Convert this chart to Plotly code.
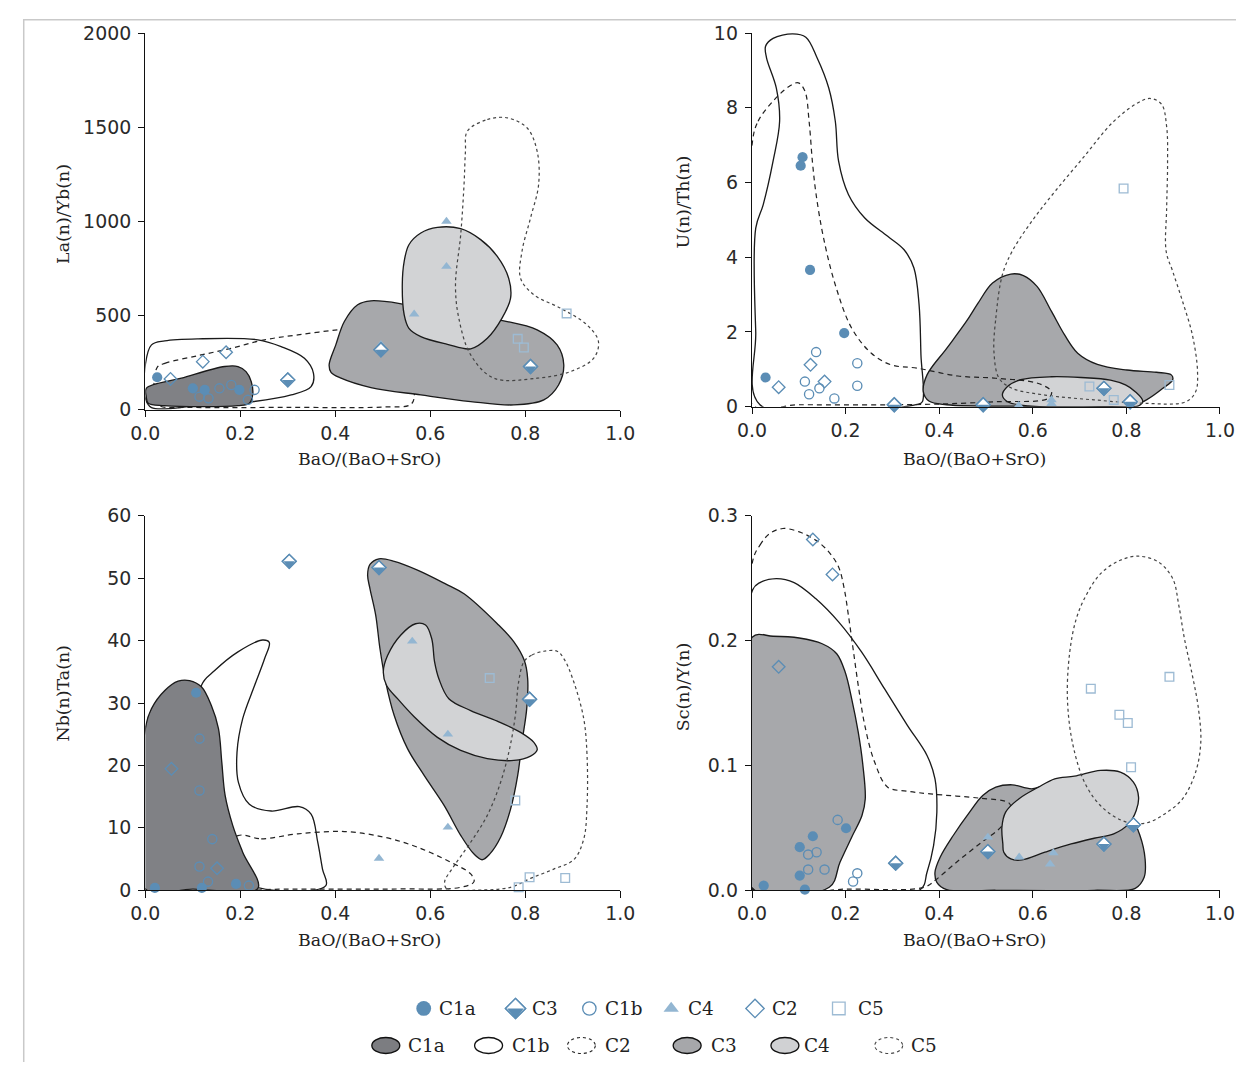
import plotly.graph_objects as go

# ---------------- data: samples ----------------
# Panel A: La(n)/Yb(n)
a_c1a_x = [0.025, 0.10, 0.125, 0.198]
a_c1a_y = [172, 113, 105, 105]
a_c1b_x = [0.114, 0.133, 0.156, 0.181, 0.23, 0.216]
a_c1b_y = [69, 60, 113, 131, 105, 52]
a_c2_x = [0.053, 0.121, 0.170]
a_c2_y = [163, 255, 305]
a_c3_x = [0.30, 0.496, 0.811]
a_c3_y = [158, 318, 229]
a_c4_x = [0.634, 0.634, 0.566, 0.496]
a_c4_y = [1000, 760, 507, 345]
a_c5_x = [0.887, 0.784, 0.797]
a_c5_y = [511, 376, 330]

# Panel B: U(n)/Th(n)
b_c1a_x = [0.108, 0.104, 0.124, 0.197, 0.029]
b_c1a_y = [6.68, 6.45, 3.66, 1.97, 0.78]
b_c1b_x = [0.137, 0.225, 0.113, 0.144, 0.122, 0.225, 0.176]
b_c1b_y = [1.46, 1.16, 0.67, 0.49, 0.33, 0.56, 0.22]
b_c2_x = [0.057, 0.125, 0.155]
b_c2_y = [0.52, 1.12, 0.67]
b_c3_x = [0.304, 0.494, 0.752, 0.808]
b_c3_y = [0.05, 0.05, 0.49, 0.13]
b_c4_x = [0.57, 0.64, 0.64]
b_c4_y = [0.03, 0.18, 0.08]
b_c5_x = [0.721, 0.773, 0.892, 0.794]
b_c5_y = [0.54, 0.18, 0.58, 5.84]

# Panel C: Nb(n)/Ta(n)
c_c1a_x = [0.107, 0.02, 0.119, 0.191]
c_c1a_y = [31.65, 0.37, 0.37, 1.02]
c_c1b_x = [0.114, 0.114, 0.141, 0.114, 0.132, 0.218]
c_c1b_y = [24.3, 16.0, 8.2, 3.8, 1.39, 0.75]
c_c2_x = [0.055, 0.151]
c_c2_y = [19.46, 3.53]
c_c3_x = [0.303, 0.492, 0.809]
c_c3_y = [52.7, 51.7, 30.6]
c_c4_x = [0.562, 0.637, 0.637, 0.492]
c_c4_y = [39.9, 25.0, 10.1, 5.1]
c_c5_x = [0.725, 0.779, 0.809, 0.786, 0.884]
c_c5_y = [34.0, 14.4, 2.1, 0.48, 1.97]

# Panel D: Sc(n)/Y(n)
d_c1a_x = [0.025, 0.113, 0.102, 0.102, 0.130, 0.201]
d_c1a_y = [0.0038, 0.0006, 0.0118, 0.0345, 0.0433, 0.0497]
d_c1b_x = [0.183, 0.12, 0.138, 0.12, 0.155, 0.225, 0.216]
d_c1b_y = [0.0564, 0.0286, 0.0305, 0.0166, 0.0166, 0.0136, 0.007]
d_c2_x = [0.130, 0.172, 0.057]
d_c2_y = [0.281, 0.253, 0.179]
d_c3_x = [0.307, 0.504, 0.752, 0.815]
d_c3_y = [0.0217, 0.031, 0.037, 0.0524]
d_c4_x = [0.504, 0.571, 0.644, 0.637]
d_c4_y = [0.0425, 0.0265, 0.03, 0.021]
d_c5_x = [0.724, 0.892, 0.785, 0.803, 0.810]
d_c5_y = [0.1615, 0.171, 0.1406, 0.134, 0.0986]

# ---------------- data: field outlines ----------------
fa_c1b_x = [0.0, 0.013, 0.041, 0.111, 0.237, 0.286, 0.335, 0.354, 0.349, 0.307, 0.216, 0.111, 0.013, 0.0]
fa_c1b_y = [238, 344, 365, 376, 371, 335, 273, 193, 122, 78, 39, 21, 11, 60]
fa_c2_x = [0.025, 0.041, 0.111, 0.181, 0.251, 0.321, 0.405, 0.48, 0.56, 0.567, 0.56, 0.5, 0.3, 0.1, 0.03, 0.015, 0.02]
fa_c2_y = [225, 246, 287, 326, 371, 397, 424, 440, 300, 100, 30, 14, 12, 12, 20, 60, 160]
fa_c1a_x = [0.002, 0.006, 0.04, 0.195, 0.219, 0.226, 0.223, 0.212, 0.195, 0.167, 0.076, 0.002]
fa_c1a_y = [68, 34, 21, 21, 34, 78, 149, 202, 229, 229, 167, 113]
fa_c3_x = [0.387, 0.401, 0.419, 0.447, 0.475, 0.545, 0.65, 0.762, 0.825, 0.867, 0.881, 0.870, 0.839,
           0.776, 0.685, 0.580, 0.475, 0.412, 0.391]
fa_c3_y = [238, 344, 468, 557, 578, 560, 504, 468, 424, 344, 238, 131, 52, 25, 43, 78, 117, 167, 198]
fa_c4_x = [0.541, 0.545, 0.555, 0.580, 0.615, 0.664, 0.706, 0.741, 0.765, 0.769, 0.751, 0.720, 0.685,
           0.636, 0.580, 0.555, 0.545]
fa_c4_y = [663, 787, 876, 938, 968, 961, 903, 814, 698, 592, 486, 379, 323, 347, 388, 432, 504]
fa_c5_x = [0.678, 0.72, 0.762, 0.804, 0.825, 0.828, 0.811, 0.793, 0.790, 0.818, 0.874, 0.930, 0.954,
           0.944, 0.895, 0.825, 0.734, 0.685, 0.660, 0.653, 0.664, 0.671, 0.674]
fa_c5_y = [1479, 1541, 1550, 1496, 1372, 1195, 1018, 840, 698, 610, 539, 450, 362, 273, 202, 167, 167,
           291, 486, 663, 929, 1195, 1372]

fb_c1b_x = [0.008, 0.008, 0.024, 0.045, 0.059, 0.052, 0.031, 0.029, 0.045, 0.087, 0.115, 0.139, 0.164,
            0.178, 0.185, 0.206, 0.241, 0.29, 0.325, 0.346, 0.357, 0.361, 0.364, 0.353, 0.017]
fb_c1b_y = [2.0, 4.78, 5.41, 6.57, 7.64, 8.53, 9.34, 9.65, 9.86, 9.98, 9.89, 9.34, 8.53, 7.64, 6.57,
            5.68, 5.05, 4.56, 4.2, 3.71, 2.73, 1.39, 0.13, 0.06, 0.05]
fb_c2_x = [0.001, 0.013, 0.045, 0.08, 0.099, 0.113, 0.122, 0.129, 0.137, 0.153, 0.178, 0.213, 0.255,
           0.297, 0.353, 0.44, 0.521, 0.612, 0.64, 0.633, 0.521, 0.367, 0.1, 0.001]
fb_c2_y = [7.1, 7.64, 8.18, 8.58, 8.67, 8.45, 7.64, 6.57, 5.68, 4.51, 3.26, 2.1, 1.43, 1.12, 1.03,
           0.82, 0.76, 0.62, 0.4, 0.22, 0.13, 0.06, 0.05, 0.05]
fb_c3_x = [0.366, 0.374, 0.416, 0.458, 0.483, 0.514, 0.553, 0.580, 0.609, 0.640, 0.668, 0.696, 0.738,
           0.801, 0.864, 0.896, 0.899, 0.878, 0.843, 0.815, 0.591, 0.416, 0.378]
fb_c3_y = [0.4, 0.85, 1.56, 2.28, 2.77, 3.31, 3.55, 3.51, 3.22, 2.55, 1.92, 1.43, 1.13, 0.98, 0.92,
           0.85, 0.72, 0.49, 0.18, 0.03, 0.01, 0.05, 0.15]
fb_c4_x = [0.535, 0.546, 0.574, 0.64, 0.703, 0.766, 0.798, 0.819, 0.835, 0.826, 0.766, 0.591, 0.546]
fb_c4_y = [0.31, 0.54, 0.72, 0.8, 0.78, 0.71, 0.58, 0.4, 0.15, 0.02, 0.0, 0.02, 0.13]
fb_c5_x = [0.517, 0.521, 0.535, 0.556, 0.60, 0.65, 0.71, 0.77, 0.82, 0.85, 0.875, 0.886, 0.888, 0.886,
           0.885, 0.899, 0.92, 0.941, 0.952, 0.948, 0.927, 0.836, 0.731, 0.626, 0.556, 0.528]
fb_c5_y = [1.47, 2.37, 3.53, 4.16, 5.0, 5.8, 6.7, 7.6, 8.1, 8.25, 8.1, 7.5, 6.5, 5.3, 4.16, 3.62,
           2.82, 1.92, 0.94, 0.4, 0.13, 0.09, 0.18, 0.31, 0.49, 0.76]

fc_c1b_x = [0.237, 0.13, 0.12, 0.118, 0.146, 0.195, 0.247, 0.261, 0.251, 0.23, 0.205, 0.193, 0.196,
            0.219, 0.265, 0.324, 0.349, 0.363, 0.373, 0.38]
fc_c1b_y = [0.43, 5.0, 20.0, 32.8, 35.2, 38.2, 40.1, 39.7, 37.1, 32.8, 27.5, 22.1, 17.3, 13.8, 12.7,
            13.4, 12.2, 7.7, 3.4, 0.75]
fc_c2_x = [0.195, 0.244, 0.321, 0.419, 0.503, 0.573, 0.643, 0.685, 0.692, 0.664, 0.531, 0.3, 0.05, 0.1]
fc_c2_y = [8.77, 8.24, 9.04, 9.41, 8.5, 6.9, 4.49, 2.62, 1.39, 0.48, 0.21, 0.2, 0.2, 3.0]
fc_c1a_x = [0.0, 0.0, 0.013, 0.041, 0.069, 0.093, 0.118, 0.139, 0.154, 0.161, 0.168, 0.184, 0.205,
            0.237, 0.1]
fc_c1a_y = [0.2, 25.9, 29.1, 32.0, 33.5, 33.6, 32.6, 29.6, 25.9, 20.5, 15.2, 10.4, 6.1, 0.3, 0.2]
fc_c3_x = [0.468, 0.473, 0.492, 0.524, 0.573, 0.632, 0.671, 0.741, 0.776, 0.798, 0.805, 0.803, 0.793,
           0.784, 0.769, 0.748, 0.725, 0.709, 0.692, 0.664, 0.629, 0.587, 0.552, 0.524, 0.506, 0.494,
           0.485, 0.473]
fc_c3_y = [50.5, 52.2, 53.1, 52.7, 51.3, 49.1, 47.5, 42.7, 39.8, 36.8, 33.9, 29.1, 23.7, 18.4, 13.0,
           8.5, 5.8, 4.9, 5.8, 8.8, 13.6, 18.4, 22.7, 28.0, 33.4, 38.7, 44.1, 48.3]
fc_c4_x = [0.501, 0.51, 0.538, 0.569, 0.59, 0.603, 0.609, 0.618, 0.639, 0.685, 0.741, 0.79, 0.818,
           0.825, 0.811, 0.776, 0.72, 0.664, 0.615, 0.566, 0.531, 0.508]
fc_c4_y = [35.0, 37.6, 40.9, 42.7, 42.5, 40.3, 36.6, 33.9, 30.7, 28.8, 27.1, 25.3, 23.7, 22.5, 21.5,
           20.8, 21.1, 22.4, 24.5, 27.8, 30.7, 32.8]
fc_c5_x = [0.797, 0.814, 0.839, 0.867, 0.882, 0.902, 0.923, 0.93, 0.93, 0.923, 0.902, 0.86, 0.811,
           0.769, 0.685, 0.636, 0.63, 0.65, 0.685, 0.72, 0.748, 0.767, 0.779, 0.786]
fc_c5_y = [36.6, 37.7, 38.3, 38.3, 37.0, 33.4, 27.5, 21.6, 13.6, 8.2, 4.9, 3.4, 1.9, 0.48, 0.0, 0.1,
           1.3, 3.9, 7.7, 12.0, 17.3, 22.7, 28.0, 33.4]

fd_c1b_x = [0.001, 0.017, 0.052, 0.09, 0.136, 0.185, 0.234, 0.283, 0.332, 0.374, 0.391, 0.395, 0.388,
            0.374, 0.359, 0.001]
fd_c1b_y = [0.2404, 0.2465, 0.2497, 0.2465, 0.2337, 0.215, 0.1909, 0.1615, 0.1321, 0.108, 0.0893,
            0.0626, 0.0358, 0.0144, 0.0004, 0.0008]
fd_c1a_x = [0.001, 0.045, 0.101, 0.150, 0.181, 0.199, 0.213, 0.227, 0.237, 0.242, 0.235, 0.213, 0.188,
            0.165, 0.001]
fd_c1a_y = [0.2029, 0.2035, 0.2021, 0.1975, 0.1895, 0.1748, 0.1534, 0.1267, 0.1, 0.0732, 0.0599,
            0.0425, 0.0225, 0.0024, 0.0016]
fd_c2_x = [0.001, 0.017, 0.038, 0.066, 0.101, 0.136, 0.164, 0.185, 0.197, 0.206, 0.216, 0.227, 0.241,
           0.262, 0.29, 0.33, 0.381, 0.486, 0.549, 0.553, 0.535, 0.486, 0.437, 0.395, 0.367, 0.2, 0.001]
fd_c2_y = [0.263, 0.2765, 0.2858, 0.2898, 0.2871, 0.2805, 0.2711, 0.259, 0.2417, 0.2203, 0.1935,
           0.1642, 0.1321, 0.1027, 0.0826, 0.0795, 0.0772, 0.0738, 0.07, 0.0652, 0.0519, 0.0371, 0.0225,
           0.0091, 0.0024, 0.001, 0.001]
fd_c3_x = [0.391, 0.402, 0.43, 0.465, 0.493, 0.521, 0.556, 0.598, 0.661, 0.766, 0.812, 0.829, 0.840,
           0.838, 0.819, 0.731, 0.521, 0.416, 0.395]
fd_c3_y = [0.0144, 0.0265, 0.0439, 0.0626, 0.0759, 0.0826, 0.0845, 0.0813, 0.0866, 0.0706, 0.0572,
           0.0439, 0.0251, 0.0104, 0.0016, 0.0, 0.0, 0.0005, 0.0064]
fd_c4_x = [0.536, 0.534, 0.542, 0.57, 0.612, 0.647, 0.689, 0.745, 0.787, 0.815, 0.826, 0.821, 0.805,
           0.773, 0.731, 0.682, 0.626, 0.577, 0.553, 0.538]
fd_c4_y = [0.0371, 0.0505, 0.0626, 0.0732, 0.0826, 0.0893, 0.0914, 0.096, 0.0946, 0.0866, 0.0746,
           0.0639, 0.0532, 0.0452, 0.0417, 0.0371, 0.0305, 0.0243, 0.0251, 0.0305]
fd_c5_x = [0.674, 0.679, 0.693, 0.714, 0.745, 0.787, 0.826, 0.868, 0.899, 0.912, 0.924, 0.941, 0.954,
           0.959, 0.948, 0.92, 0.882, 0.843, 0.801, 0.752, 0.714, 0.686]
fd_c5_y = [0.1534, 0.1909, 0.2176, 0.2363, 0.2537, 0.2644, 0.2676, 0.2631, 0.2497, 0.2283, 0.2016,
           0.1722, 0.1454, 0.1187, 0.0947, 0.0732, 0.0612, 0.054, 0.0545, 0.0652, 0.0839, 0.116]

# ---------------- axes text ----------------
x_ticks = [0.0, 0.2, 0.4, 0.6, 0.8, 1.0]
x_ticktext = ["0.0", "0.2", "0.4", "0.6", "0.8", "1.0"]
a_yticks = [0, 500, 1000, 1500, 2000]
b_yticks = [0, 2, 4, 6, 8, 10]
c_yticks = [0, 10, 20, 30, 40, 50, 60]
d_yticks = [0.0, 0.1, 0.2, 0.3]
d_yticktext = ["0.0", "0.1", "0.2", "0.3"]
x_title = "BaO/(BaO+SrO)"
y_titles = ["La(n)/Yb(n)", "U(n)/Th(n)", "Nb(n)Ta(n)", "Sc(n)/Y(n)"]
legend_points = ["C1a", "C3", "C1b", "C4", "C2", "C5"]
legend_fields = ["C1a", "C1b", "C2", "C3", "C4", "C5"]

# ---------------- styling / layout geometry ----------------
# figure size (px) and the measured figure->picture mapping
W, H = 1243, 1065
SC = 0.978       # picture px per figure px
X0, Y0 = 21.4, 17.9   # picture position of the figure's top-left corner


def pxx(s):
    """picture x (px) -> paper fraction"""
    return ((s - X0) / SC) / W


def pxy(s):
    """picture y (px) -> paper fraction"""
    return 1 - ((s - Y0) / SC) / H


K = 1 / SC
BLUE = "#5b8db5"
BLUE_L = "#93b6d2"
BLUE_SQ = "#9dbbd4"
DARK = "#808185"
MID = "#a7a8ab"
LIGHT = "#d2d3d5"
TICKFONT = dict(family="DejaVu Sans", size=18.5 * K, color="#2a2a2a")
TITLEFONT = dict(family="DejaVu Serif", size=17 * K, color="#222")
LEGFONT = dict(family="DejaVu Serif", size=18 * K, color="#222")

panels = {
    "a": dict(x0=144, x1=620, y0=408, y1=32, yr=[0, 2000], yt=a_yticks, ytt=None),
    "b": dict(x0=752, x1=1221, y0=405, y1=32, yr=[0, 10], yt=b_yticks, ytt=None),
    "c": dict(x0=144, x1=620, y0=888, y1=514, yr=[0, 60], yt=c_yticks, ytt=None),
    "d": dict(x0=752, x1=1221, y0=888, y1=514, yr=[0, 0.3], yt=d_yticks, ytt=d_yticktext),
}
axmap = {"a": ("x", "y"), "b": ("x2", "y2"), "c": ("x3", "y3"), "d": ("x4", "y4")}

fig = go.Figure()


def field(xs, ys, p, fill=None, dash="solid", color="#1a1a1a", width=1.3):
    xa, ya = axmap[p]
    fig.add_trace(go.Scatter(
        x=list(xs) + [xs[0]], y=list(ys) + [ys[0]], mode="lines",
        line=dict(shape="spline", smoothing=1.0, color=color, width=width * K, dash=dash),
        fill="toself" if fill else "none", fillcolor=fill,
        xaxis=xa, yaxis=ya, hoverinfo="skip", showlegend=False))


def c2f(xs, ys, p):
    field(xs, ys, p, fill=None, dash="5px,4px", color="#222", width=1.2)


def c5f(xs, ys, p):
    field(xs, ys, p, fill=None, dash="dot", color="#444", width=1.2)


# fields, drawn in stacking order per panel
field(fa_c1b_x, fa_c1b_y, "a", fill="white")
c2f(fa_c2_x, fa_c2_y, "a")
field(fa_c1a_x, fa_c1a_y, "a", fill=DARK)
field(fa_c3_x, fa_c3_y, "a", fill=MID)
field(fa_c4_x, fa_c4_y, "a", fill=LIGHT)
c5f(fa_c5_x, fa_c5_y, "a")

field(fb_c1b_x, fb_c1b_y, "b", fill="white")
field(fb_c3_x, fb_c3_y, "b", fill=MID)
field(fb_c4_x, fb_c4_y, "b", fill=LIGHT)
c2f(fb_c2_x, fb_c2_y, "b")
c5f(fb_c5_x, fb_c5_y, "b")

field(fc_c1b_x, fc_c1b_y, "c", fill="white")
c2f(fc_c2_x, fc_c2_y, "c")
field(fc_c1a_x, fc_c1a_y, "c", fill=DARK)
field(fc_c3_x, fc_c3_y, "c", fill=MID)
field(fc_c4_x, fc_c4_y, "c", fill=LIGHT)
c5f(fc_c5_x, fc_c5_y, "c")

field(fd_c1b_x, fd_c1b_y, "d", fill="white")
field(fd_c1a_x, fd_c1a_y, "d", fill=MID)
field(fd_c3_x, fd_c3_y, "d", fill=MID)
c2f(fd_c2_x, fd_c2_y, "d")
field(fd_c4_x, fd_c4_y, "d", fill=LIGHT)
c5f(fd_c5_x, fd_c5_y, "d")


def pts(xs, ys, xa, ya, kind, big=False):
    k = (1.45 if big else 1.0) * K
    lw = 1.3 * K
    common = dict(x=xs, y=ys, mode="markers", xaxis=xa, yaxis=ya, hoverinfo="skip",
                  showlegend=False, cliponaxis=False)
    if kind == "C1a":
        fig.add_trace(go.Scatter(marker=dict(symbol="circle", size=10 * k, color=BLUE,
                                             line=dict(width=0)), **common))
    elif kind == "C1b":
        fig.add_trace(go.Scatter(marker=dict(symbol="circle", size=9 * k, color="rgba(255,255,255,0)",
                                             line=dict(width=lw, color=BLUE)), **common))
    elif kind == "C2":
        fig.add_trace(go.Scatter(marker=dict(symbol="diamond", size=9.5 * k, color="rgba(255,255,255,0)",
                                             line=dict(width=lw, color=BLUE)), **common))
    elif kind == "C3":
        s = 10.5 * k
        fig.add_trace(go.Scatter(marker=dict(symbol="diamond", size=s, color="white",
                                             line=dict(width=lw, color=BLUE)), **common))
        t = s * 0.92
        fig.add_trace(go.Scatter(marker=dict(symbol="triangle-down", size=t, color=BLUE,
                                             standoff=t / 4, line=dict(width=0)), **common))
        fig.add_trace(go.Scatter(marker=dict(symbol="diamond-open", size=s, color=BLUE,
                                             line=dict(width=lw, color=BLUE)), **common))
    elif kind == "C4":
        fig.add_trace(go.Scatter(marker=dict(symbol="triangle-up", size=9 * k, color=BLUE_L,
                                             line=dict(width=0)), **common))
    elif kind == "C5":
        fig.add_trace(go.Scatter(marker=dict(symbol="square", size=8.5 * k, color="rgba(255,255,255,0)",
                                             line=dict(width=lw, color=BLUE_SQ)), **common))


order = ["C5", "C4", "C2", "C1b", "C3", "C1a"]
pdata = {
    "a": {"C1a": (a_c1a_x, a_c1a_y), "C1b": (a_c1b_x, a_c1b_y), "C2": (a_c2_x, a_c2_y),
          "C3": (a_c3_x, a_c3_y), "C4": (a_c4_x, a_c4_y), "C5": (a_c5_x, a_c5_y)},
    "b": {"C1a": (b_c1a_x, b_c1a_y), "C1b": (b_c1b_x, b_c1b_y), "C2": (b_c2_x, b_c2_y),
          "C3": (b_c3_x, b_c3_y), "C4": (b_c4_x, b_c4_y), "C5": (b_c5_x, b_c5_y)},
    "c": {"C1a": (c_c1a_x, c_c1a_y), "C1b": (c_c1b_x, c_c1b_y), "C2": (c_c2_x, c_c2_y),
          "C3": (c_c3_x, c_c3_y), "C4": (c_c4_x, c_c4_y), "C5": (c_c5_x, c_c5_y)},
    "d": {"C1a": (d_c1a_x, d_c1a_y), "C1b": (d_c1b_x, d_c1b_y), "C2": (d_c2_x, d_c2_y),
          "C3": (d_c3_x, d_c3_y), "C4": (d_c4_x, d_c4_y), "C5": (d_c5_x, d_c5_y)},
}
for p in "abcd":
    xa, ya = axmap[p]
    for kind in order:
        xs, ys = pdata[p][kind]
        pts(xs, ys, xa, ya, kind)

# ---------------- legend (on a picture-pixel overlay axis) ----------------
leg_row1_y = 1006
leg_row2_y = 1043
leg1_marker_x = [423, 515, 589, 671, 755, 839]
leg1_text_x = [436, 530, 603, 686, 770, 856]
leg2_ell_x = [385, 488, 581, 687, 785, 889]
leg2_text_x = [405, 509, 603, 709, 802, 909]

for name, mx in zip(legend_points, leg1_marker_x):
    pts([mx], [leg_row1_y], "x5", "y5", name, big=True)

annotations = []
for name, tx in zip(legend_points, leg1_text_x):
    annotations.append(dict(x=tx, y=leg_row1_y, xref="x5", yref="y5", text=name, showarrow=False,
                            xanchor="left", yanchor="middle", font=LEGFONT))
shapes = []
ell_style = {
    "C1a": dict(fillcolor="#7c7d81", line=dict(color="#111", width=1.3 * K)),
    "C1b": dict(fillcolor="white", line=dict(color="#111", width=1.3 * K)),
    "C2": dict(fillcolor="rgba(0,0,0,0)", line=dict(color="#222", width=1.1 * K, dash="3px,3px")),
    "C3": dict(fillcolor="#a6a7aa", line=dict(color="#111", width=1.3 * K)),
    "C4": dict(fillcolor="#d0d1d3", line=dict(color="#111", width=1.3 * K)),
    "C5": dict(fillcolor="rgba(0,0,0,0)", line=dict(color="#444", width=1.1 * K, dash="dot")),
}
for name, ex, tx in zip(legend_fields, leg2_ell_x, leg2_text_x):
    shapes.append(dict(type="circle", xref="x5", yref="y5", x0=ex - 14, x1=ex + 14,
                       y0=leg_row2_y - 8, y1=leg_row2_y + 8, layer="above", **ell_style[name]))
    annotations.append(dict(x=tx, y=leg_row2_y, xref="x5", yref="y5", text=name, showarrow=False,
                            xanchor="left", yanchor="middle", font=LEGFONT))

# page frame (top and left edges)
FRAME = dict(color="#c9c9c9", width=1.5)
shapes.append(dict(type="line", xref="paper", yref="paper", x0=0, x1=1, y0=0.9993, y1=0.9993, line=FRAME))
shapes.append(dict(type="line", xref="paper", yref="paper", x0=0.0006, x1=0.0006, y0=0, y1=1, line=FRAME))

# axis titles
ytitle_pos = {"a": (62, 213), "b": (683, 201), "c": (62, 692), "d": (683, 685)}
xtitle_pos = {"a": (369, 457), "b": (975, 457), "c": (369, 938), "d": (975, 938)}
for p, yt in zip("abcd", y_titles):
    x, y = ytitle_pos[p]
    annotations.append(dict(x=pxx(x), y=pxy(y), xref="paper", yref="paper", text=yt, textangle=-90,
                            showarrow=False, xanchor="center", yanchor="middle", font=TITLEFONT))
    x, y = xtitle_pos[p]
    annotations.append(dict(x=pxx(x), y=pxy(y), xref="paper", yref="paper", text=x_title,
                            showarrow=False, xanchor="center", yanchor="middle", font=TITLEFONT))

layout = dict(
    width=W, height=H, margin=dict(l=0, r=0, t=0, b=0), paper_bgcolor="white",
    plot_bgcolor="rgba(0,0,0,0)", showlegend=False, annotations=annotations, shapes=shapes,
)
axis_common = dict(showline=True, linecolor="#111", linewidth=1.3 * K, ticks="outside", ticklen=6 * K,
                   tickwidth=1.2 * K, tickcolor="#111", showgrid=False, zeroline=False,
                   tickfont=TICKFONT, fixedrange=True)
for i, p in enumerate("abcd", start=1):
    g = panels[p]
    xk = "xaxis" if i == 1 else f"xaxis{i}"
    yk = "yaxis" if i == 1 else f"yaxis{i}"
    ya_name = "y" if i == 1 else f"y{i}"
    xa_name = "x" if i == 1 else f"x{i}"
    layout[xk] = dict(domain=[pxx(g["x0"]), pxx(g["x1"])], range=[0, 1], tickvals=x_ticks,
                      ticktext=x_ticktext, anchor=ya_name, **axis_common)
    ydict = dict(domain=[pxy(g["y0"]), pxy(g["y1"])], range=g["yr"], tickvals=g["yt"],
                 anchor=xa_name, ticklabelstandoff=3, **axis_common)
    if g["ytt"]:
        ydict["ticktext"] = g["ytt"]
    layout[yk] = ydict
layout["xaxis5"] = dict(domain=[0, 1], range=[X0, X0 + W * SC], visible=False, anchor="y5",
                        fixedrange=True)
layout["yaxis5"] = dict(domain=[0, 1], range=[Y0 + H * SC, Y0], visible=False, anchor="x5",
                        fixedrange=True)

fig.update_layout(**layout)
fig.write_html("out.html")
